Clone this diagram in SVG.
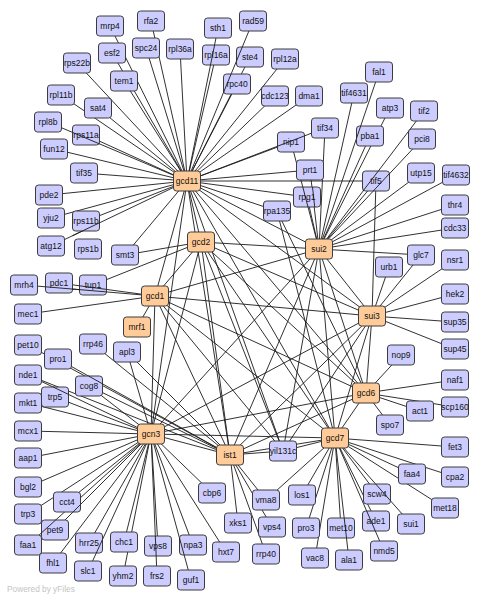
<svg xmlns="http://www.w3.org/2000/svg" width="481" height="600" viewBox="0 0 481 600">
<style>
.e line{stroke:#1a1a1a;stroke-width:0.9}
.nd rect{fill:#ccccff;stroke:#3c3c3c;stroke-width:1}
.hb rect{fill:#ffcc99;stroke:#3c3c3c;stroke-width:1}
text{font-family:"Liberation Sans",Arial,sans-serif;font-size:8.5px;fill:#111;text-anchor:middle}
.brand{font-size:8.3px;fill:#c4c4c4;text-anchor:start}
</style>
<rect width="481" height="600" fill="#ffffff"/>
<g id="connectors" class="e">
<line x1="187" y1="181" x2="110" y2="26"/><line x1="187" y1="181" x2="151" y2="21"/>
<line x1="187" y1="181" x2="112" y2="53"/><line x1="187" y1="181" x2="146" y2="48"/>
<line x1="187" y1="181" x2="180" y2="49"/><line x1="187" y1="181" x2="216" y2="55"/>
<line x1="187" y1="181" x2="218" y2="28"/><line x1="187" y1="181" x2="253" y2="21"/>
<line x1="187" y1="181" x2="250" y2="57"/><line x1="187" y1="181" x2="285" y2="59"/>
<line x1="187" y1="181" x2="237" y2="84"/><line x1="187" y1="181" x2="275" y2="96"/>
<line x1="187" y1="181" x2="309" y2="96"/><line x1="187" y1="181" x2="77" y2="63"/>
<line x1="187" y1="181" x2="124" y2="81"/><line x1="187" y1="181" x2="61" y2="95"/>
<line x1="187" y1="181" x2="98" y2="108"/><line x1="187" y1="181" x2="48" y2="122"/>
<line x1="187" y1="181" x2="86" y2="135"/><line x1="187" y1="181" x2="54" y2="149"/>
<line x1="187" y1="181" x2="84" y2="173"/><line x1="187" y1="181" x2="49" y2="195"/>
<line x1="187" y1="181" x2="51" y2="218"/><line x1="187" y1="181" x2="86" y2="221"/>
<line x1="187" y1="181" x2="51" y2="246"/><line x1="187" y1="181" x2="125" y2="255"/>
<line x1="187" y1="181" x2="291" y2="142"/><line x1="187" y1="181" x2="325" y2="128"/>
<line x1="187" y1="181" x2="310" y2="170"/><line x1="187" y1="181" x2="376" y2="181"/>
<line x1="187" y1="181" x2="307" y2="197"/><line x1="187" y1="181" x2="277" y2="211"/>
<line x1="187" y1="181" x2="201" y2="242"/><line x1="187" y1="181" x2="155" y2="296"/>
<line x1="187" y1="181" x2="319" y2="249"/><line x1="187" y1="181" x2="372" y2="316"/>
<line x1="187" y1="181" x2="366" y2="393"/><line x1="187" y1="181" x2="335" y2="438"/>
<line x1="187" y1="181" x2="151" y2="434"/><line x1="187" y1="181" x2="230" y2="455"/>
<line x1="187" y1="181" x2="283" y2="451"/>
<line x1="201" y1="242" x2="319" y2="249"/><line x1="201" y1="242" x2="155" y2="296"/>
<line x1="201" y1="242" x2="372" y2="316"/><line x1="201" y1="242" x2="366" y2="393"/>
<line x1="201" y1="242" x2="335" y2="438"/><line x1="201" y1="242" x2="151" y2="434"/>
<line x1="201" y1="242" x2="230" y2="455"/><line x1="201" y1="242" x2="283" y2="451"/>
<line x1="155" y1="296" x2="319" y2="249"/><line x1="155" y1="296" x2="372" y2="316"/>
<line x1="155" y1="296" x2="366" y2="393"/><line x1="155" y1="296" x2="335" y2="438"/>
<line x1="155" y1="296" x2="151" y2="434"/><line x1="155" y1="296" x2="230" y2="455"/>
<line x1="155" y1="296" x2="283" y2="451"/>
<line x1="319" y1="249" x2="372" y2="316"/><line x1="319" y1="249" x2="366" y2="393"/>
<line x1="319" y1="249" x2="335" y2="438"/><line x1="319" y1="249" x2="151" y2="434"/>
<line x1="319" y1="249" x2="230" y2="455"/><line x1="319" y1="249" x2="283" y2="451"/>
<line x1="372" y1="316" x2="366" y2="393"/><line x1="372" y1="316" x2="335" y2="438"/>
<line x1="372" y1="316" x2="151" y2="434"/><line x1="372" y1="316" x2="230" y2="455"/>
<line x1="372" y1="316" x2="283" y2="451"/>
<line x1="366" y1="393" x2="335" y2="438"/><line x1="366" y1="393" x2="151" y2="434"/>
<line x1="366" y1="393" x2="230" y2="455"/>
<line x1="335" y1="438" x2="151" y2="434"/><line x1="335" y1="438" x2="230" y2="455"/>
<line x1="335" y1="438" x2="283" y2="451"/>
<line x1="151" y1="434" x2="230" y2="455"/><line x1="230" y1="455" x2="283" y2="451"/>
<line x1="201" y1="242" x2="125" y2="255"/><line x1="201" y1="242" x2="93" y2="285"/>
<line x1="155" y1="296" x2="24" y2="285"/><line x1="155" y1="296" x2="59" y2="283"/>
<line x1="155" y1="296" x2="28" y2="314"/><line x1="155" y1="296" x2="137" y2="327"/>
<line x1="319" y1="249" x2="291" y2="142"/><line x1="319" y1="249" x2="325" y2="128"/>
<line x1="319" y1="249" x2="310" y2="170"/><line x1="319" y1="249" x2="307" y2="197"/>
<line x1="319" y1="249" x2="354" y2="93"/><line x1="319" y1="249" x2="379" y2="72"/>
<line x1="319" y1="249" x2="370" y2="136"/><line x1="319" y1="249" x2="390" y2="108"/>
<line x1="319" y1="249" x2="424" y2="111"/><line x1="319" y1="249" x2="422" y2="139"/>
<line x1="319" y1="249" x2="376" y2="181"/><line x1="319" y1="249" x2="421" y2="173"/>
<line x1="319" y1="249" x2="456" y2="175"/><line x1="319" y1="249" x2="455" y2="205"/>
<line x1="319" y1="249" x2="455" y2="228"/><line x1="319" y1="249" x2="421" y2="255"/>
<line x1="372" y1="316" x2="376" y2="181"/><line x1="372" y1="316" x2="389" y2="267"/>
<line x1="372" y1="316" x2="421" y2="255"/><line x1="372" y1="316" x2="455" y2="260"/>
<line x1="372" y1="316" x2="455" y2="294"/><line x1="372" y1="316" x2="455" y2="322"/>
<line x1="372" y1="316" x2="455" y2="349"/>
<line x1="277" y1="211" x2="335" y2="438"/><line x1="277" y1="211" x2="366" y2="393"/>
<line x1="366" y1="393" x2="401" y2="355"/><line x1="366" y1="393" x2="420" y2="411"/>
<line x1="366" y1="393" x2="455" y2="407"/><line x1="366" y1="393" x2="455" y2="380"/>
<line x1="366" y1="393" x2="390" y2="425"/>
<line x1="335" y1="438" x2="455" y2="447"/><line x1="335" y1="438" x2="412" y2="474"/>
<line x1="335" y1="438" x2="455" y2="477"/><line x1="335" y1="438" x2="445" y2="508"/>
<line x1="335" y1="438" x2="377" y2="494"/><line x1="335" y1="438" x2="376" y2="521"/>
<line x1="335" y1="438" x2="411" y2="524"/><line x1="335" y1="438" x2="384" y2="551"/>
<line x1="335" y1="438" x2="349" y2="560"/><line x1="335" y1="438" x2="341" y2="528"/>
<line x1="335" y1="438" x2="315" y2="558"/><line x1="335" y1="438" x2="306" y2="528"/>
<line x1="335" y1="438" x2="302" y2="495"/><line x1="335" y1="438" x2="266" y2="500"/>
<line x1="151" y1="434" x2="28" y2="375"/><line x1="151" y1="434" x2="55" y2="397"/>
<line x1="151" y1="434" x2="28" y2="403"/><line x1="151" y1="434" x2="28" y2="431"/>
<line x1="151" y1="434" x2="28" y2="458"/><line x1="151" y1="434" x2="28" y2="487"/>
<line x1="151" y1="434" x2="67" y2="502"/><line x1="151" y1="434" x2="28" y2="514"/>
<line x1="151" y1="434" x2="55" y2="530"/><line x1="151" y1="434" x2="28" y2="545"/>
<line x1="151" y1="434" x2="53" y2="563"/><line x1="151" y1="434" x2="89" y2="543"/>
<line x1="151" y1="434" x2="88" y2="571"/><line x1="151" y1="434" x2="124" y2="542"/>
<line x1="151" y1="434" x2="123" y2="576"/><line x1="151" y1="434" x2="158" y2="546"/>
<line x1="151" y1="434" x2="157" y2="576"/><line x1="151" y1="434" x2="193" y2="545"/>
<line x1="151" y1="434" x2="191" y2="580"/><line x1="151" y1="434" x2="226" y2="552"/>
<line x1="151" y1="434" x2="212" y2="493"/><line x1="151" y1="434" x2="127" y2="352"/>
<line x1="151" y1="434" x2="89" y2="386"/>
<line x1="230" y1="455" x2="28" y2="345"/><line x1="230" y1="455" x2="58" y2="359"/>
<line x1="230" y1="455" x2="28" y2="375"/><line x1="230" y1="455" x2="89" y2="386"/>
<line x1="230" y1="455" x2="93" y2="344"/><line x1="230" y1="455" x2="127" y2="352"/>
<line x1="230" y1="455" x2="238" y2="523"/><line x1="230" y1="455" x2="266" y2="500"/>
<line x1="230" y1="455" x2="272" y2="527"/><line x1="230" y1="455" x2="266" y2="554"/>
</g>
<g id="nodes">
<g id="gcd11" class="hb" transform="translate(187,181)"><rect x="-13.5" y="-10" width="27" height="20" rx="3"/><text y="3">gcd11</text></g>
<g id="gcd2" class="hb" transform="translate(201,242)"><rect x="-13.5" y="-10" width="27" height="20" rx="3"/><text y="3">gcd2</text></g>
<g id="gcd1" class="hb" transform="translate(155,296)"><rect x="-13.5" y="-10" width="27" height="20" rx="3"/><text y="3">gcd1</text></g>
<g id="mrf1" class="hb" transform="translate(137,327)"><rect x="-13.5" y="-10" width="27" height="20" rx="3"/><text y="3">mrf1</text></g>
<g id="sui2" class="hb" transform="translate(319,249)"><rect x="-13.5" y="-10" width="27" height="20" rx="3"/><text y="3">sui2</text></g>
<g id="sui3" class="hb" transform="translate(372,316)"><rect x="-13.5" y="-10" width="27" height="20" rx="3"/><text y="3">sui3</text></g>
<g id="gcd6" class="hb" transform="translate(366,393)"><rect x="-13.5" y="-10" width="27" height="20" rx="3"/><text y="3">gcd6</text></g>
<g id="gcd7" class="hb" transform="translate(335,438)"><rect x="-13.5" y="-10" width="27" height="20" rx="3"/><text y="3">gcd7</text></g>
<g id="gcn3" class="hb" transform="translate(151,434)"><rect x="-13.5" y="-10" width="27" height="20" rx="3"/><text y="3">gcn3</text></g>
<g id="ist1" class="hb" transform="translate(230,455)"><rect x="-13.5" y="-10" width="27" height="20" rx="3"/><text y="3">ist1</text></g>
<g id="mrp4" class="nd" transform="translate(110,26)"><rect x="-13.5" y="-10" width="27" height="20" rx="3"/><text y="3">mrp4</text></g>
<g id="rfa2" class="nd" transform="translate(151,21)"><rect x="-13.5" y="-10" width="27" height="20" rx="3"/><text y="3">rfa2</text></g>
<g id="sth1" class="nd" transform="translate(218,28)"><rect x="-13.5" y="-10" width="27" height="20" rx="3"/><text y="3">sth1</text></g>
<g id="rad59" class="nd" transform="translate(253,21)"><rect x="-13.5" y="-10" width="27" height="20" rx="3"/><text y="3">rad59</text></g>
<g id="esf2" class="nd" transform="translate(112,53)"><rect x="-13.5" y="-10" width="27" height="20" rx="3"/><text y="3">esf2</text></g>
<g id="spc24" class="nd" transform="translate(146,48)"><rect x="-13.5" y="-10" width="27" height="20" rx="3"/><text y="3">spc24</text></g>
<g id="rpl36a" class="nd" transform="translate(180,49)"><rect x="-13.5" y="-10" width="27" height="20" rx="3"/><text y="3">rpl36a</text></g>
<g id="rpl16a" class="nd" transform="translate(216,55)"><rect x="-13.5" y="-10" width="27" height="20" rx="3"/><text y="3">rpl16a</text></g>
<g id="ste4" class="nd" transform="translate(250,57)"><rect x="-13.5" y="-10" width="27" height="20" rx="3"/><text y="3">ste4</text></g>
<g id="rpl12a" class="nd" transform="translate(285,59)"><rect x="-13.5" y="-10" width="27" height="20" rx="3"/><text y="3">rpl12a</text></g>
<g id="rps22b" class="nd" transform="translate(77,63)"><rect x="-13.5" y="-10" width="27" height="20" rx="3"/><text y="3">rps22b</text></g>
<g id="tem1" class="nd" transform="translate(124,81)"><rect x="-13.5" y="-10" width="27" height="20" rx="3"/><text y="3">tem1</text></g>
<g id="rpc40" class="nd" transform="translate(237,84)"><rect x="-13.5" y="-10" width="27" height="20" rx="3"/><text y="3">rpc40</text></g>
<g id="fal1" class="nd" transform="translate(379,72)"><rect x="-13.5" y="-10" width="27" height="20" rx="3"/><text y="3">fal1</text></g>
<g id="cdc123" class="nd" transform="translate(275,96)"><rect x="-13.5" y="-10" width="27" height="20" rx="3"/><text y="3">cdc123</text></g>
<g id="dma1" class="nd" transform="translate(309,96)"><rect x="-13.5" y="-10" width="27" height="20" rx="3"/><text y="3">dma1</text></g>
<g id="tif4631" class="nd" transform="translate(354,93)"><rect x="-13.5" y="-10" width="27" height="20" rx="3"/><text y="3">tif4631</text></g>
<g id="rpl11b" class="nd" transform="translate(61,95)"><rect x="-13.5" y="-10" width="27" height="20" rx="3"/><text y="3">rpl11b</text></g>
<g id="sat4" class="nd" transform="translate(98,108)"><rect x="-13.5" y="-10" width="27" height="20" rx="3"/><text y="3">sat4</text></g>
<g id="atp3" class="nd" transform="translate(390,108)"><rect x="-13.5" y="-10" width="27" height="20" rx="3"/><text y="3">atp3</text></g>
<g id="tif2" class="nd" transform="translate(424,111)"><rect x="-13.5" y="-10" width="27" height="20" rx="3"/><text y="3">tif2</text></g>
<g id="rpl8b" class="nd" transform="translate(48,122)"><rect x="-13.5" y="-10" width="27" height="20" rx="3"/><text y="3">rpl8b</text></g>
<g id="tif34" class="nd" transform="translate(325,128)"><rect x="-13.5" y="-10" width="27" height="20" rx="3"/><text y="3">tif34</text></g>
<g id="rps11a" class="nd" transform="translate(86,135)"><rect x="-13.5" y="-10" width="27" height="20" rx="3"/><text y="3">rps11a</text></g>
<g id="pba1" class="nd" transform="translate(370,136)"><rect x="-13.5" y="-10" width="27" height="20" rx="3"/><text y="3">pba1</text></g>
<g id="pci8" class="nd" transform="translate(422,139)"><rect x="-13.5" y="-10" width="27" height="20" rx="3"/><text y="3">pci8</text></g>
<g id="nip1" class="nd" transform="translate(291,142)"><rect x="-13.5" y="-10" width="27" height="20" rx="3"/><text y="3">nip1</text></g>
<g id="fun12" class="nd" transform="translate(54,149)"><rect x="-13.5" y="-10" width="27" height="20" rx="3"/><text y="3">fun12</text></g>
<g id="prt1" class="nd" transform="translate(310,170)"><rect x="-13.5" y="-10" width="27" height="20" rx="3"/><text y="3">prt1</text></g>
<g id="utp15" class="nd" transform="translate(421,173)"><rect x="-13.5" y="-10" width="27" height="20" rx="3"/><text y="3">utp15</text></g>
<g id="tif4632" class="nd" transform="translate(456,175)"><rect x="-13.5" y="-10" width="27" height="20" rx="3"/><text y="3">tif4632</text></g>
<g id="tif35" class="nd" transform="translate(84,173)"><rect x="-13.5" y="-10" width="27" height="20" rx="3"/><text y="3">tif35</text></g>
<g id="tif5" class="nd" transform="translate(376,181)"><rect x="-13.5" y="-10" width="27" height="20" rx="3"/><text y="3">tif5</text></g>
<g id="pde2" class="nd" transform="translate(49,195)"><rect x="-13.5" y="-10" width="27" height="20" rx="3"/><text y="3">pde2</text></g>
<g id="rpg1" class="nd" transform="translate(307,197)"><rect x="-13.5" y="-10" width="27" height="20" rx="3"/><text y="3">rpg1</text></g>
<g id="thr4" class="nd" transform="translate(455,205)"><rect x="-13.5" y="-10" width="27" height="20" rx="3"/><text y="3">thr4</text></g>
<g id="rpa135" class="nd" transform="translate(277,211)"><rect x="-13.5" y="-10" width="27" height="20" rx="3"/><text y="3">rpa135</text></g>
<g id="yju2" class="nd" transform="translate(51,218)"><rect x="-13.5" y="-10" width="27" height="20" rx="3"/><text y="3">yju2</text></g>
<g id="rps11b" class="nd" transform="translate(86,221)"><rect x="-13.5" y="-10" width="27" height="20" rx="3"/><text y="3">rps11b</text></g>
<g id="cdc33" class="nd" transform="translate(455,228)"><rect x="-13.5" y="-10" width="27" height="20" rx="3"/><text y="3">cdc33</text></g>
<g id="atg12" class="nd" transform="translate(51,246)"><rect x="-13.5" y="-10" width="27" height="20" rx="3"/><text y="3">atg12</text></g>
<g id="rps1b" class="nd" transform="translate(88,249)"><rect x="-13.5" y="-10" width="27" height="20" rx="3"/><text y="3">rps1b</text></g>
<g id="smt3" class="nd" transform="translate(125,255)"><rect x="-13.5" y="-10" width="27" height="20" rx="3"/><text y="3">smt3</text></g>
<g id="glc7" class="nd" transform="translate(421,255)"><rect x="-13.5" y="-10" width="27" height="20" rx="3"/><text y="3">glc7</text></g>
<g id="nsr1" class="nd" transform="translate(455,260)"><rect x="-13.5" y="-10" width="27" height="20" rx="3"/><text y="3">nsr1</text></g>
<g id="urb1" class="nd" transform="translate(389,267)"><rect x="-13.5" y="-10" width="27" height="20" rx="3"/><text y="3">urb1</text></g>
<g id="mrh4" class="nd" transform="translate(24,285)"><rect x="-13.5" y="-10" width="27" height="20" rx="3"/><text y="3">mrh4</text></g>
<g id="pdc1" class="nd" transform="translate(59,283)"><rect x="-13.5" y="-10" width="27" height="20" rx="3"/><text y="3">pdc1</text></g>
<g id="tup1" class="nd" transform="translate(93,285)"><rect x="-13.5" y="-10" width="27" height="20" rx="3"/><text y="3">tup1</text></g>
<g id="hek2" class="nd" transform="translate(455,294)"><rect x="-13.5" y="-10" width="27" height="20" rx="3"/><text y="3">hek2</text></g>
<g id="mec1" class="nd" transform="translate(28,314)"><rect x="-13.5" y="-10" width="27" height="20" rx="3"/><text y="3">mec1</text></g>
<g id="sup35" class="nd" transform="translate(455,322)"><rect x="-13.5" y="-10" width="27" height="20" rx="3"/><text y="3">sup35</text></g>
<g id="pet10" class="nd" transform="translate(28,345)"><rect x="-13.5" y="-10" width="27" height="20" rx="3"/><text y="3">pet10</text></g>
<g id="rrp46" class="nd" transform="translate(93,344)"><rect x="-13.5" y="-10" width="27" height="20" rx="3"/><text y="3">rrp46</text></g>
<g id="sup45" class="nd" transform="translate(455,349)"><rect x="-13.5" y="-10" width="27" height="20" rx="3"/><text y="3">sup45</text></g>
<g id="apl3" class="nd" transform="translate(127,352)"><rect x="-13.5" y="-10" width="27" height="20" rx="3"/><text y="3">apl3</text></g>
<g id="nop9" class="nd" transform="translate(401,355)"><rect x="-13.5" y="-10" width="27" height="20" rx="3"/><text y="3">nop9</text></g>
<g id="pro1" class="nd" transform="translate(58,359)"><rect x="-13.5" y="-10" width="27" height="20" rx="3"/><text y="3">pro1</text></g>
<g id="nde1" class="nd" transform="translate(28,375)"><rect x="-13.5" y="-10" width="27" height="20" rx="3"/><text y="3">nde1</text></g>
<g id="naf1" class="nd" transform="translate(455,380)"><rect x="-13.5" y="-10" width="27" height="20" rx="3"/><text y="3">naf1</text></g>
<g id="cog8" class="nd" transform="translate(89,386)"><rect x="-13.5" y="-10" width="27" height="20" rx="3"/><text y="3">cog8</text></g>
<g id="trp5" class="nd" transform="translate(55,397)"><rect x="-13.5" y="-10" width="27" height="20" rx="3"/><text y="3">trp5</text></g>
<g id="mkt1" class="nd" transform="translate(28,403)"><rect x="-13.5" y="-10" width="27" height="20" rx="3"/><text y="3">mkt1</text></g>
<g id="scp160" class="nd" transform="translate(455,407)"><rect x="-13.5" y="-10" width="27" height="20" rx="3"/><text y="3">scp160</text></g>
<g id="act1" class="nd" transform="translate(420,411)"><rect x="-13.5" y="-10" width="27" height="20" rx="3"/><text y="3">act1</text></g>
<g id="spo7" class="nd" transform="translate(390,425)"><rect x="-13.5" y="-10" width="27" height="20" rx="3"/><text y="3">spo7</text></g>
<g id="mcx1" class="nd" transform="translate(28,431)"><rect x="-13.5" y="-10" width="27" height="20" rx="3"/><text y="3">mcx1</text></g>
<g id="fet3" class="nd" transform="translate(455,447)"><rect x="-13.5" y="-10" width="27" height="20" rx="3"/><text y="3">fet3</text></g>
<g id="yil131c" class="nd" transform="translate(283,451)"><rect x="-13.5" y="-10" width="27" height="20" rx="3"/><text y="3">yil131c</text></g>
<g id="aap1" class="nd" transform="translate(28,458)"><rect x="-13.5" y="-10" width="27" height="20" rx="3"/><text y="3">aap1</text></g>
<g id="faa4" class="nd" transform="translate(412,474)"><rect x="-13.5" y="-10" width="27" height="20" rx="3"/><text y="3">faa4</text></g>
<g id="cpa2" class="nd" transform="translate(455,477)"><rect x="-13.5" y="-10" width="27" height="20" rx="3"/><text y="3">cpa2</text></g>
<g id="bgl2" class="nd" transform="translate(28,487)"><rect x="-13.5" y="-10" width="27" height="20" rx="3"/><text y="3">bgl2</text></g>
<g id="cbp6" class="nd" transform="translate(212,493)"><rect x="-13.5" y="-10" width="27" height="20" rx="3"/><text y="3">cbp6</text></g>
<g id="scw4" class="nd" transform="translate(377,494)"><rect x="-13.5" y="-10" width="27" height="20" rx="3"/><text y="3">scw4</text></g>
<g id="los1" class="nd" transform="translate(302,495)"><rect x="-13.5" y="-10" width="27" height="20" rx="3"/><text y="3">los1</text></g>
<g id="vma8" class="nd" transform="translate(266,500)"><rect x="-13.5" y="-10" width="27" height="20" rx="3"/><text y="3">vma8</text></g>
<g id="cct4" class="nd" transform="translate(67,502)"><rect x="-13.5" y="-10" width="27" height="20" rx="3"/><text y="3">cct4</text></g>
<g id="met18" class="nd" transform="translate(445,508)"><rect x="-13.5" y="-10" width="27" height="20" rx="3"/><text y="3">met18</text></g>
<g id="trp3" class="nd" transform="translate(28,514)"><rect x="-13.5" y="-10" width="27" height="20" rx="3"/><text y="3">trp3</text></g>
<g id="ade1" class="nd" transform="translate(376,521)"><rect x="-13.5" y="-10" width="27" height="20" rx="3"/><text y="3">ade1</text></g>
<g id="xks1" class="nd" transform="translate(238,523)"><rect x="-13.5" y="-10" width="27" height="20" rx="3"/><text y="3">xks1</text></g>
<g id="sui1" class="nd" transform="translate(411,524)"><rect x="-13.5" y="-10" width="27" height="20" rx="3"/><text y="3">sui1</text></g>
<g id="vps4" class="nd" transform="translate(272,527)"><rect x="-13.5" y="-10" width="27" height="20" rx="3"/><text y="3">vps4</text></g>
<g id="pro3" class="nd" transform="translate(306,528)"><rect x="-13.5" y="-10" width="27" height="20" rx="3"/><text y="3">pro3</text></g>
<g id="met10" class="nd" transform="translate(341,528)"><rect x="-13.5" y="-10" width="27" height="20" rx="3"/><text y="3">met10</text></g>
<g id="pet9" class="nd" transform="translate(55,530)"><rect x="-13.5" y="-10" width="27" height="20" rx="3"/><text y="3">pet9</text></g>
<g id="hrr25" class="nd" transform="translate(89,543)"><rect x="-13.5" y="-10" width="27" height="20" rx="3"/><text y="3">hrr25</text></g>
<g id="chc1" class="nd" transform="translate(124,542)"><rect x="-13.5" y="-10" width="27" height="20" rx="3"/><text y="3">chc1</text></g>
<g id="faa1" class="nd" transform="translate(28,545)"><rect x="-13.5" y="-10" width="27" height="20" rx="3"/><text y="3">faa1</text></g>
<g id="npa3" class="nd" transform="translate(193,545)"><rect x="-13.5" y="-10" width="27" height="20" rx="3"/><text y="3">npa3</text></g>
<g id="vps8" class="nd" transform="translate(158,546)"><rect x="-13.5" y="-10" width="27" height="20" rx="3"/><text y="3">vps8</text></g>
<g id="nmd5" class="nd" transform="translate(384,551)"><rect x="-13.5" y="-10" width="27" height="20" rx="3"/><text y="3">nmd5</text></g>
<g id="hxt7" class="nd" transform="translate(226,552)"><rect x="-13.5" y="-10" width="27" height="20" rx="3"/><text y="3">hxt7</text></g>
<g id="rrp40" class="nd" transform="translate(266,554)"><rect x="-13.5" y="-10" width="27" height="20" rx="3"/><text y="3">rrp40</text></g>
<g id="vac8" class="nd" transform="translate(315,558)"><rect x="-13.5" y="-10" width="27" height="20" rx="3"/><text y="3">vac8</text></g>
<g id="ala1" class="nd" transform="translate(349,560)"><rect x="-13.5" y="-10" width="27" height="20" rx="3"/><text y="3">ala1</text></g>
<g id="fhl1" class="nd" transform="translate(53,563)"><rect x="-13.5" y="-10" width="27" height="20" rx="3"/><text y="3">fhl1</text></g>
<g id="slc1" class="nd" transform="translate(88,571)"><rect x="-13.5" y="-10" width="27" height="20" rx="3"/><text y="3">slc1</text></g>
<g id="yhm2" class="nd" transform="translate(123,576)"><rect x="-13.5" y="-10" width="27" height="20" rx="3"/><text y="3">yhm2</text></g>
<g id="frs2" class="nd" transform="translate(157,576)"><rect x="-13.5" y="-10" width="27" height="20" rx="3"/><text y="3">frs2</text></g>
<g id="guf1" class="nd" transform="translate(191,580)"><rect x="-13.5" y="-10" width="27" height="20" rx="3"/><text y="3">guf1</text></g>
</g>
<g id="connector-crossings" class="e">
<line x1="45.5" y1="286.8" x2="106.5" y2="291.9"/>
<line x1="79.5" y1="285.8" x2="106.5" y2="289.4"/>
<line x1="72.5" y1="132.4" x2="99.5" y2="143.9"/>
<line x1="277.5" y1="146.2" x2="304.5" y2="135.9"/>
<line x1="360.7" y1="126" x2="356.5" y2="138.4"/>
<line x1="378.3" y1="171" x2="363" y2="191"/>
<line x1="389.5" y1="173.5" x2="373.3" y2="191"/>
<line x1="214.6" y1="45" x2="210.5" y2="65"/>
<line x1="242.3" y1="47" x2="236.5" y2="61"/>
<line x1="231.1" y1="74" x2="223.5" y2="92.5"/>
<line x1="72.5" y1="235.7" x2="99.5" y2="222.8"/>
<line x1="41.5" y1="532.8" x2="55.7" y2="520"/>
<line x1="73" y1="512" x2="80.5" y2="504.5"/>
<line x1="366.7" y1="511" x2="375.3" y2="531"/>
<line x1="375.7" y1="484" x2="390.5" y2="500.8"/>
<line x1="344.2" y1="518" x2="346.5" y2="538"/>
<line x1="102.5" y1="539.5" x2="96.3" y2="553"/>
<line x1="155.3" y1="536" x2="156.2" y2="556"/>
<line x1="179.5" y1="538" x2="184.2" y2="555"/>
<line x1="302.8" y1="187" x2="308" y2="207"/>
<line x1="312.5" y1="187" x2="314.7" y2="207"/>
<line x1="88.5" y1="376" x2="102.5" y2="383.8"/>
<line x1="53.1" y1="387" x2="68.5" y2="394.4"/>
</g>
<text class="brand" x="7" y="592">Powered by yFiles</text>
</svg>
